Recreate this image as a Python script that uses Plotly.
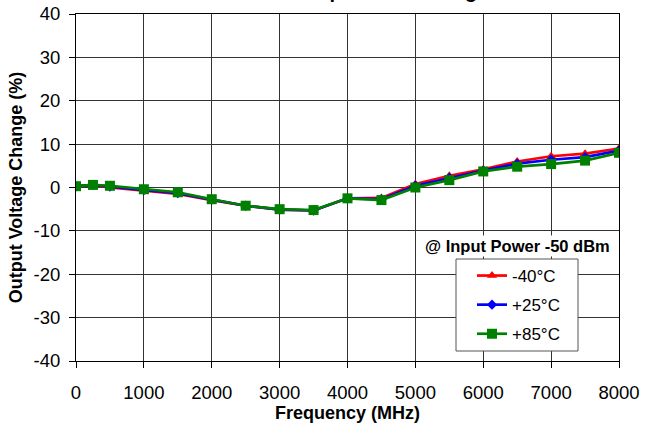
import plotly.graph_objects as go

freq = [0, 250, 500, 1000, 1500, 2000, 2500, 3000, 3500, 4000, 4500, 5000, 5500, 6000, 6500, 7000, 7500, 8000]
chg_m40 = [0.3, 0.5, 0.0, -0.8, -1.5, -2.9, -4.2, -5.1, -5.3, -2.5, -2.4, 0.8, 2.7, 4.2, 6.0, 7.2, 7.8, 9.0]
chg_p25 = [0.3, 0.6, 0.2, -0.6, -1.3, -2.8, -4.2, -5.1, -5.3, -2.5, -2.7, 0.4, 2.2, 3.9, 5.5, 6.4, 7.0, 8.5]
chg_p85 = [0.3, 0.6, 0.4, -0.4, -1.1, -2.7, -4.2, -5.0, -5.2, -2.5, -2.9, 0.0, 1.7, 3.7, 4.8, 5.4, 6.2, 8.0]

series_names = ["-40°C", "+25°C", "+85°C"]
colors = ["#ff0000", "#0000ff", "#008000"]
symbols = ["triangle-up", "diamond", "square"]
sizes = [9, 8, 10]
x_ticks = [0, 1000, 2000, 3000, 4000, 5000, 6000, 7000, 8000]
y_ticks = [-40, -30, -20, -10, 0, 10, 20, 30, 40]
y_labels = ["-40", "-30", "-20", "-10", "0", "10", "20", "30", "40"]

# target plot area in page pixels
PL, PT, PR, PB = 76, 14, 619, 361
W, H = 652, 423
PW, PH = PR - PL, PB - PT


def px(xp):
    return (xp - PL) / PW


def py(yp):
    return (PB - yp) / PH


fig = go.Figure()
for name, vals, c, s, sz in zip(series_names, [chg_m40, chg_p25, chg_p85], colors, symbols, sizes):
    fig.add_trace(go.Scatter(
        x=freq, y=vals, name=name, mode="lines+markers",
        line=dict(color=c, width=2.7),
        marker=dict(symbol=s, size=sz, color=c),
        legendgroup=name,
    ))

font = "Arial, Liberation Sans, sans-serif"
axis_common = dict(
    showline=True, linecolor="black", linewidth=1, mirror=True,
    showgrid=True, gridcolor="#333333", gridwidth=1,
    ticks="outside", ticklen=6, tickcolor="black",
    zeroline=False, automargin=False, ticklabeloverflow="allow",
    tickfont=dict(family=font, size=18.5, color="black"),
)

fig.update_layout(
    width=W, height=H,
    margin=dict(l=PL, r=W - PR, t=PT, b=H - PB),
    paper_bgcolor="white", plot_bgcolor="white",
    font=dict(family=font, color="black"),
    xaxis=dict(range=[0, 8000], tickvals=x_ticks, ticklabelstandoff=9,
               title=dict(text="<b>Frequency (MHz)</b>", font=dict(size=18, family=font), standoff=2),
               **axis_common),
    yaxis=dict(range=[-40, 40], tickvals=y_ticks, ticktext=y_labels, ticklabelstandoff=5,
               title=dict(text="<b>Output Voltage Change (%)</b>", font=dict(size=18, family=font), standoff=6),
               **axis_common),
    legend=dict(x=px(472), y=py(258), xanchor="left", yanchor="top",
                bgcolor="rgba(0,0,0,0)", borderwidth=0,
                font=dict(family=font, size=17, color="black"),
                tracegroupgap=4, itemwidth=30),
    showlegend=True,
    shapes=[
        dict(type="rect", xref="paper", yref="paper",
             x0=px(456), x1=px(578), y0=py(351), y1=py(259),
             line=dict(color="#555555", width=1), fillcolor="white", layer="above"),
    ],
    annotations=[
        dict(text="<b>@ Input Power -50 dBm</b>", xref="paper", yref="paper",
             x=px(517), y=py(246), xanchor="center", yanchor="middle", showarrow=False,
             font=dict(family=font, size=16.5, color="black"),
             bgcolor="white"),
        dict(text="<b>Vout vs. Temperature Change</b>", xref="paper", yref="paper",
             x=0.5, y=1, xanchor="center", yanchor="bottom", yshift=9.5, showarrow=False,
             font=dict(family=font, size=20, color="black")),
    ],
)

fig.write_html("out.html", config={"displayModeBar": False},
               post_script="document.body.style.margin='0';")
